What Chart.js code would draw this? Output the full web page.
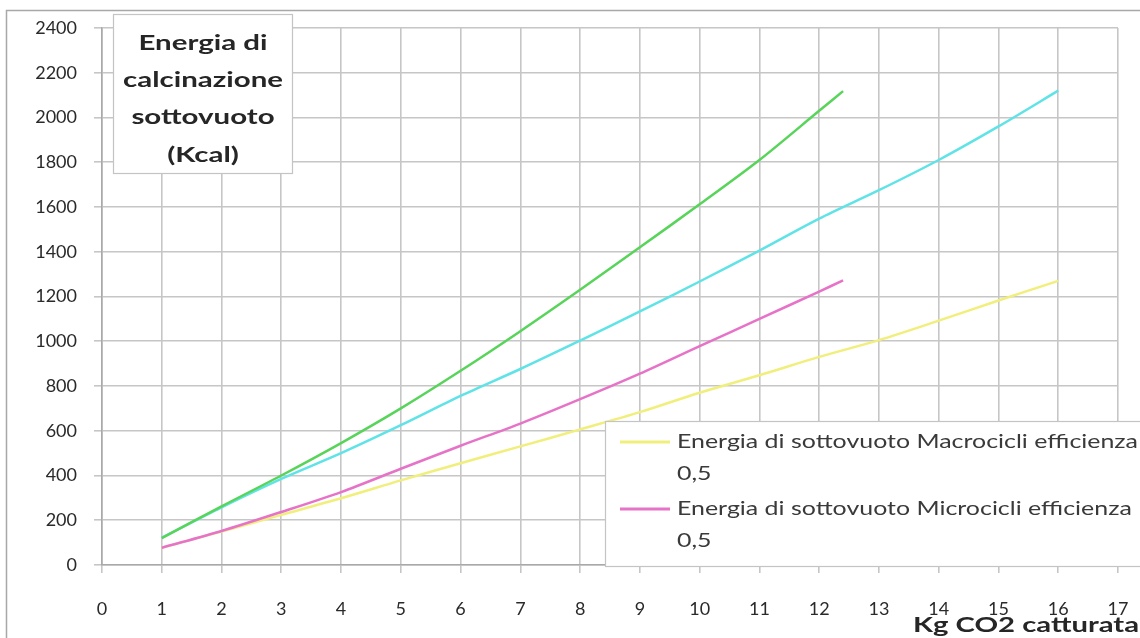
<!DOCTYPE html>
<html>
<head>
<meta charset="utf-8">
<script src="https://cdn.jsdelivr.net/npm/chart.js@4.4.1/dist/chart.umd.min.js"></script>
<style>
  html, body { margin: 0; padding: 0; background: #ffffff; }
  #wrap { position: relative; width: 1140px; height: 638px; }
  canvas { display: block; }
</style>
</head>
<body>
<div id="wrap"><canvas id="c" width="1140" height="638"></canvas></div>
<script>
// ---- Data ----
const xShort = [1, 2, 3, 4, 5, 6, 7, 8, 9, 10, 11, 12, 12.4];
const xLong = [1, 2, 3, 4, 5, 6, 7, 8, 9, 10, 11, 12, 13, 14, 15, 16];
const greenValues = [120, 262, 400, 545, 700, 868, 1045, 1230, 1420, 1612, 1810, 2030, 2118];
const pinkValues = [77, 152, 237, 326, 430, 533, 632, 741, 855, 978, 1100, 1222, 1272];
const cyanValues = [122, 258, 385, 500, 625, 756, 876, 1003, 1133, 1267, 1405, 1548, 1675, 1810, 1960, 2120];
const yellowValues = [77, 150, 224, 298, 378, 455, 530, 606, 683, 770, 848, 930, 1005, 1092, 1182, 1270];
const yTicks = [0, 200, 400, 600, 800, 1000, 1200, 1400, 1600, 1800, 2000, 2200, 2400];
const xTicks = [0, 1, 2, 3, 4, 5, 6, 7, 8, 9, 10, 11, 12, 13, 14, 15, 16, 17];
const legendLabels = ["Energia di sottovuoto Macrocicli efficienza\n0,5", "Energia di sottovuoto Microcicli efficienza\n0,5"];
const titleLines = ["Energia di", "calcinazione", "sottovuoto", "(Kcal)"];
const xTitle = "Kg CO2 catturata";

const toPts = (xs, ys) => xs.map((x, i) => ({ x: x, y: ys[i] }));

const FONT = "Lato, 'Open Sans', sans-serif";

// draw text stretched horizontally by factor sx
function stretchText(ctx, text, x, y, align, sx) {
  const w = ctx.measureText(text).width * sx;
  let left = x;
  if (align === 'center') left = x - w / 2;
  else if (align === 'right') left = x - w;
  ctx.save();
  ctx.textAlign = 'left';
  ctx.translate(left, y);
  ctx.scale(sx, 1);
  ctx.fillText(text, 0, 0);
  ctx.restore();
}

const decorPlugin = {
  id: 'decor',
  beforeDraw(chart) {
    const ctx = chart.ctx;
    ctx.save();
    ctx.fillStyle = '#ffffff';
    ctx.fillRect(0, 0, chart.width, chart.height);
    ctx.strokeStyle = '#a8a8a8';
    ctx.lineWidth = 1.5;
    ctx.strokeRect(6.5, 10.5, chart.width + 20, chart.height + 20);
    ctx.restore();
  },
  afterDraw(chart) {
    const ctx = chart.ctx;
    ctx.save();
    ctx.textBaseline = 'middle';
    // Title box
    ctx.fillStyle = '#ffffff';
    ctx.fillRect(113, 14, 179, 159);
    ctx.strokeStyle = '#c4c4c4';
    ctx.lineWidth = 1.2;
    ctx.strokeRect(113.5, 14.5, 179, 159);
    ctx.fillStyle = '#262626';
    ctx.font = "bold 21px " + FONT;
    const tsx = 160 / ctx.measureText(titleLines[1]).width;
    const ty = [43, 80, 117, 155];
    titleLines.forEach((t, i) => stretchText(ctx, t, 203, ty[i], 'center', tsx));

    // Legend box
    ctx.fillStyle = '#ffffff';
    ctx.fillRect(605, 421, 560, 145);
    ctx.strokeStyle = '#c4c4c4';
    ctx.strokeRect(605.5, 421.5, 560, 145);
    const items = chart.data.datasets.filter(d => d.inLegend).sort((a, b) => a.legendIndex - b.legendIndex);
    ctx.font = "20px " + FONT;
    const lsx = 461 / ctx.measureText(legendLabels[0].split('\n')[0]).width;
    const ly = [442, 509];
    items.forEach((d, i) => {
      ctx.strokeStyle = d.borderColor;
      ctx.lineWidth = 3;
      ctx.beginPath();
      ctx.moveTo(620, ly[i]);
      ctx.lineTo(670, ly[i]);
      ctx.stroke();
      ctx.fillStyle = '#3a3a3a';
      const parts = d.label.split('\n');
      parts.forEach((p, j) => stretchText(ctx, p, 677, ly[i] + j * 32, 'left', lsx));
    });

    // X axis title
    ctx.fillStyle = '#262626';
    ctx.font = "bold 21px " + FONT;
    const xsx = 226 / ctx.measureText(xTitle).width;
    stretchText(ctx, xTitle, 1139, 625, 'right', xsx);
    ctx.restore();
  }
};

const common = { fill: false, pointRadius: 0, borderWidth: 2.5, tension: 0.3 };

new Chart(document.getElementById('c'), {
  type: 'line',
  data: {
    datasets: [
      Object.assign({ label: 'Serie verde', data: toPts(xShort, greenValues), borderColor: '#58d45a', order: 1 }, common),
      Object.assign({ label: legendLabels[1], data: toPts(xShort, pinkValues), borderColor: '#e673c8', order: 2, inLegend: true, legendIndex: 1 }, common),
      Object.assign({ label: 'Serie azzurra', data: toPts(xLong, cyanValues), borderColor: '#5fe3e6', order: 3 }, common),
      Object.assign({ label: legendLabels[0], data: toPts(xLong, yellowValues), borderColor: '#f1ef7c', order: 4, inLegend: true, legendIndex: 0 }, common)
    ]
  },
  options: {
    responsive: false,
    animation: false,
    events: [],
    layout: { padding: { left: 0, right: 22, top: 28, bottom: 0 } },
    plugins: { legend: { display: false }, tooltip: { enabled: false }, title: { display: false } },
    scales: {
      x: {
        type: 'linear', min: 0, max: 17,
        afterBuildTicks: (s) => { s.ticks = xTicks.map(v => ({ value: v })); },
        afterFit: (s) => { s.height = 73; s.paddingLeft = 0; s.paddingRight = 0; },
        grid: { color: '#c6c6c6', lineWidth: 1.6, tickLength: 8, drawTicks: true },
        border: { color: '#a9a9a9', width: 1.6 },
        ticks: { color: '#2a2a2a', font: { family: FONT, size: 18 }, padding: 25, autoSkip: false, maxRotation: 0,
                 callback: (v) => String(v) }
      },
      y: {
        min: 0, max: 2400,
        afterBuildTicks: (s) => { s.ticks = yTicks.map(v => ({ value: v })); },
        afterFit: (s) => { s.width = 102; s.paddingTop = 0; s.paddingBottom = 0; },
        grid: { color: '#c6c6c6', lineWidth: 1.6, tickLength: 8 },
        border: { color: '#a9a9a9', width: 1.6 },
        ticks: { color: '#2a2a2a', font: { family: FONT, size: 18 }, padding: 17,
                 callback: (v) => String(v) }
      }
    }
  },
  plugins: [decorPlugin]
});
</script>
</body>
</html>
